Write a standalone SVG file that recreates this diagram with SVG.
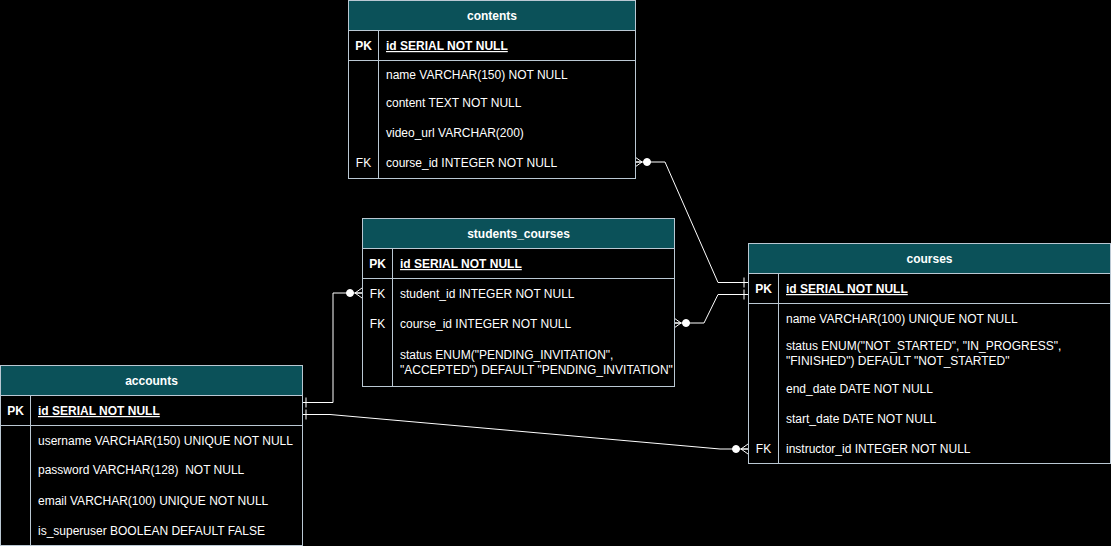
<svg xmlns="http://www.w3.org/2000/svg" width="1111" height="546" viewBox="0 0 1111 546">
<style>
  .box { fill: #000000; stroke: #bac8d3; stroke-width: 1; }
  .hdr { fill: #0b5159; stroke: #bac8d3; stroke-width: 1; }
  .ln { stroke: #bac8d3; stroke-width: 1; fill: none; }
  text { font-family: "Liberation Sans", Arial, sans-serif; font-size: 12px; fill: #ffffff; }
  .title { font-weight: bold; text-anchor: middle; }
  .key { text-anchor: middle; }
  .pk { font-weight: bold; }
  .pkf { font-weight: bold; text-decoration: underline; }
  .pre { white-space: pre; }
  .conn { stroke: #ffffff; stroke-width: 1; fill: none; }
</style>
<defs>
  <marker id="zeroMany" markerUnits="userSpaceOnUse" markerWidth="20" markerHeight="14" refX="0" refY="0" viewBox="-20 -7 20 14" orient="auto-start-reverse" overflow="visible">
    <path d="M0,-5 L-7,0 L0,5 M0,0 L-7,0" fill="none" stroke="#ffffff" stroke-width="1"/>
    <circle cx="-12" cy="0" r="3.5" fill="#ffffff" stroke="#ffffff" stroke-width="1"/>
  </marker>
  <marker id="one" markerUnits="userSpaceOnUse" markerWidth="10" markerHeight="14" refX="0" refY="0" viewBox="-10 -7 10 14" orient="auto-start-reverse" overflow="visible">
    <path d="M-4,-5 L-4,5" fill="none" stroke="#ffffff" stroke-width="1"/>
  </marker>
</defs>
<rect x="0" y="0" width="1111" height="546" fill="#000000"/>

<g id="connectors">
  <path class="conn" d="M635,162 L665,162 L718,282.5 L748,282.5" marker-start="url(#zeroMany)" marker-end="url(#one)"/>
  <path class="conn" d="M674,323 L704,323 L718,294.5 L748,294.5" marker-start="url(#zeroMany)" marker-end="url(#one)"/>
  <path class="conn" d="M362,293 L333,293 L333,402.5 L302,402.5" marker-start="url(#zeroMany)" marker-end="url(#one)"/>
  <path class="conn" d="M302,414.5 L330,414.5 L720,449 L748,449" marker-start="url(#one)" marker-end="url(#zeroMany)"/>
</g>

<g id="contents">
  <rect class="box" x="348.5" y="0.5" width="287" height="178"/>
  <rect class="hdr" x="348.5" y="0.5" width="287" height="30"/>
  <line class="ln" x1="348.5" y1="60.5" x2="635.5" y2="60.5"/>
  <line class="ln" x1="378.5" y1="30.5" x2="378.5" y2="178.5"/>
  <text class="title" x="492" y="20">contents</text>
  <text class="key pk" x="363.5" y="50">PK</text>
  <text class="pkf" x="386" y="50">id SERIAL NOT NULL</text>
  <text x="386" y="79">name VARCHAR(150) NOT NULL</text>
  <text x="386" y="107">content TEXT NOT NULL</text>
  <text x="386" y="137">video_url VARCHAR(200)</text>
  <text class="key" x="363.5" y="167">FK</text>
  <text x="386" y="167">course_id INTEGER NOT NULL</text>
</g>

<g id="students_courses">
  <rect class="box" x="362.5" y="218.5" width="312" height="168"/>
  <rect class="hdr" x="362.5" y="218.5" width="312" height="30"/>
  <line class="ln" x1="362.5" y1="278.5" x2="674.5" y2="278.5"/>
  <line class="ln" x1="392.5" y1="248.5" x2="392.5" y2="386.5"/>
  <text class="title" x="518.5" y="238">students_courses</text>
  <text class="key pk" x="377.5" y="268">PK</text>
  <text class="pkf" x="400" y="268">id SERIAL NOT NULL</text>
  <text class="key" x="377.5" y="298">FK</text>
  <text x="400" y="298">student_id INTEGER NOT NULL</text>
  <text class="key" x="377.5" y="328">FK</text>
  <text x="400" y="328">course_id INTEGER NOT NULL</text>
  <text x="400" y="359">status ENUM("PENDING_INVITATION",</text>
  <text x="400" y="374">"ACCEPTED") DEFAULT "PENDING_INVITATION"</text>
</g>

<g id="courses">
  <rect class="box" x="748.5" y="243.5" width="362" height="220"/>
  <rect class="hdr" x="748.5" y="243.5" width="362" height="30"/>
  <line class="ln" x1="748.5" y1="303.5" x2="1110.5" y2="303.5"/>
  <line class="ln" x1="778.5" y1="273.5" x2="778.5" y2="463.5"/>
  <text class="title" x="929.5" y="263">courses</text>
  <text class="key pk" x="763.5" y="293">PK</text>
  <text class="pkf" x="786" y="293">id SERIAL NOT NULL</text>
  <text x="786" y="323">name VARCHAR(100) UNIQUE NOT NULL</text>
  <text x="786" y="350">status ENUM("NOT_STARTED", "IN_PROGRESS",</text>
  <text x="786" y="365">"FINISHED") DEFAULT "NOT_STARTED"</text>
  <text x="786" y="393">end_date DATE NOT NULL</text>
  <text x="786" y="423">start_date DATE NOT NULL</text>
  <text class="key" x="763.5" y="453">FK</text>
  <text x="786" y="453">instructor_id INTEGER NOT NULL</text>
</g>

<g id="accounts">
  <rect class="box" x="0.5" y="365.5" width="302" height="180"/>
  <rect class="hdr" x="0.5" y="365.5" width="302" height="30"/>
  <line class="ln" x1="0.5" y1="425.5" x2="302.5" y2="425.5"/>
  <line class="ln" x1="30.5" y1="395.5" x2="30.5" y2="545.5"/>
  <text class="title" x="151.5" y="385">accounts</text>
  <text class="key pk" x="15.5" y="415">PK</text>
  <text class="pkf" x="38" y="415">id SERIAL NOT NULL</text>
  <text x="38" y="445">username VARCHAR(150) UNIQUE NOT NULL</text>
  <text class="pre" x="38" y="474">password VARCHAR(128)  NOT NULL</text>
  <text x="38" y="505">email VARCHAR(100) UNIQUE NOT NULL</text>
  <text x="38" y="535">is_superuser BOOLEAN DEFAULT FALSE</text>
</g>
</svg>
